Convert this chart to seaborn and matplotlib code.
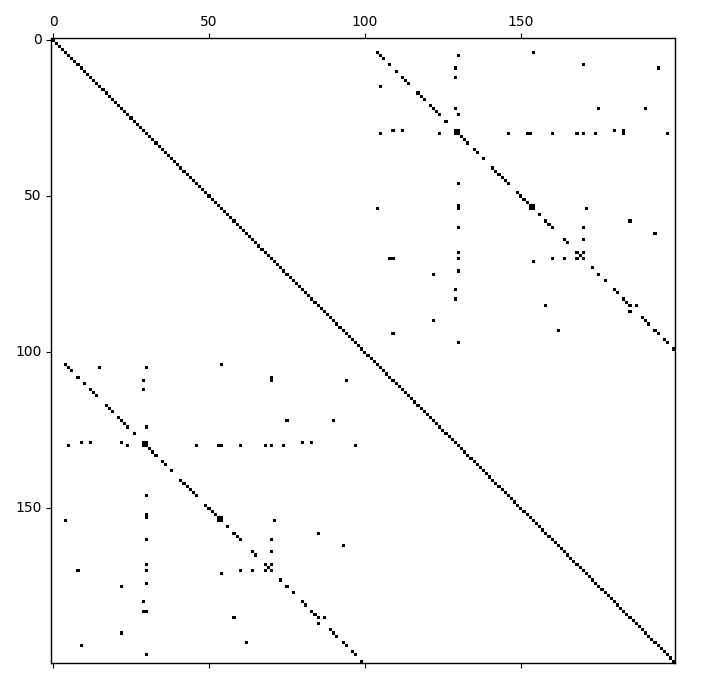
import numpy as np
import matplotlib
matplotlib.use("Agg")
import matplotlib.pyplot as plt
import seaborn as sns
from matplotlib.colors import ListedColormap

# ------------------------------------------------------------
# sparsity pattern of a symmetric 200 x 200 matrix
# only the entries above the diagonal are listed, the rest is mirrored
# ------------------------------------------------------------
n = 200
tick_labels = [0, 50, 100, 150]

# the "i, i+100" band (not every row has one)
band_rows = [4, 5, 6, 8, 10, 12, 13, 14, 17, 18, 19, 21, 22, 23, 24, 26,
             29, 30, 31, 32, 33, 35, 36, 38, 41, 42, 43, 44, 45, 46, 49,
             50, 51, 52, 53, 54, 56, 58, 59, 60, 64, 65, 68, 69, 70, 73,
             75, 77, 80, 81, 83, 84, 85, 89, 90, 91, 93, 94, 96, 97, 99]
band_cols = [104, 105, 106, 108, 110, 112, 113, 114, 117, 118, 119, 121,
             122, 123, 124, 126, 129, 130, 131, 132, 133, 135, 136, 138,
             141, 142, 143, 144, 145, 146, 149, 150, 151, 152, 153, 154,
             156, 158, 159, 160, 164, 165, 168, 169, 170, 173, 175, 177,
             180, 181, 183, 184, 185, 189, 190, 191, 193, 194, 196, 197,
             199]

# scattered entries in the upper right block
extra_rows = [29, 30, 53, 54,
              15, 30, 29, 29, 30, 30,
              5, 9, 12, 22, 24, 46,
              4, 8, 9, 22, 22,
              30, 30, 30, 30, 30, 30, 29, 29, 30, 30,
              54, 53, 54, 60, 68, 70, 74, 80, 83, 97,
              70, 70, 75, 90, 94,
              68, 70, 64, 60, 54, 58, 62, 71, 70, 70,
              85, 87, 85, 93]
extra_cols = [130, 129, 154, 153,
              105, 105, 109, 112, 124, 146,
              130, 129, 129, 129, 130, 130,
              154, 170, 194, 175, 190,
              152, 153, 160, 168, 170, 174, 180, 183, 183, 197,
              104, 130, 130, 130, 130, 130, 130, 129, 129, 130,
              108, 109, 122, 122, 109,
              170, 168, 170, 170, 171, 185, 193, 154, 160, 164,
              187, 185, 158, 162]

# build the pattern
pattern = np.zeros((n, n), dtype=int)
pattern[np.arange(n), np.arange(n)] = 1
rows = np.array(band_rows + extra_rows)
cols = np.array(band_cols + extra_cols)
pattern[rows, cols] = 1
pattern[cols, rows] = 1

# ------------------------------------------------------------
# plot (spy-like look)
# ------------------------------------------------------------
fig = plt.figure(figsize=(7.13, 6.93), dpi=100)
ax = fig.add_axes([0.0722, 0.0437, 0.8749, 0.9009])

sns.heatmap(pattern, cmap=ListedColormap(["white", "black"]), cbar=False,
            square=False, ax=ax, linewidths=0, rasterized=True)

for s in ax.spines.values():
    s.set_visible(True)
    s.set_color("black")
    s.set_linewidth(1.0)

pos = [t + 0.5 for t in tick_labels]
ax.set_xticks(pos)
ax.set_xticklabels(tick_labels, rotation=0)
ax.set_yticks(pos)
ax.set_yticklabels(tick_labels, rotation=0)
ax.tick_params(axis="x", top=True, labeltop=True, bottom=True,
               labelbottom=False, length=3.5, labelsize=10)
ax.tick_params(axis="y", left=True, length=3.5, labelsize=10)
ax.set_xlim(0, n)
ax.set_ylim(n, 0)

fig.savefig("out.png", dpi=100)
